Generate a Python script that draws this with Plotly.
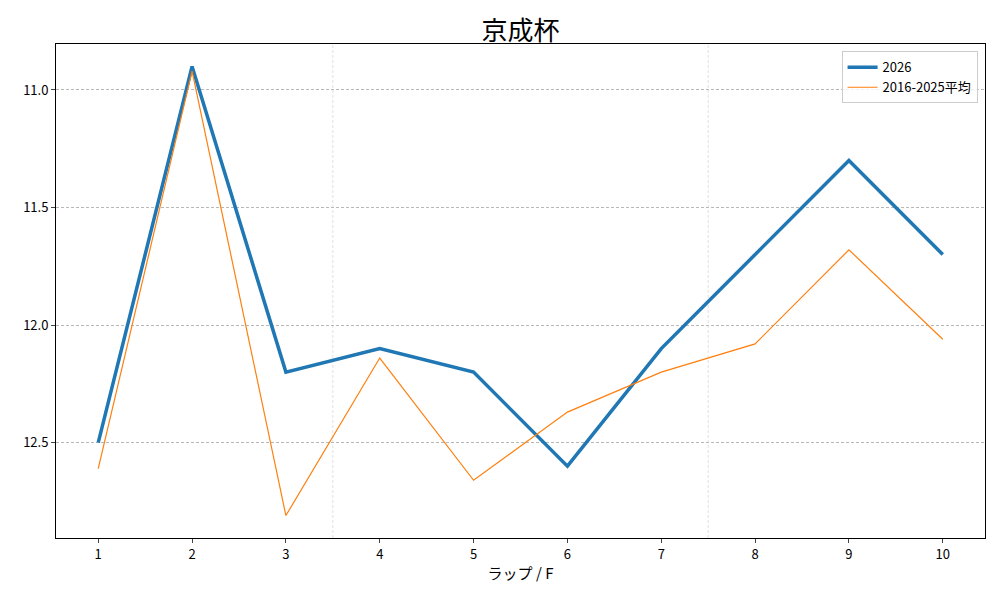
import plotly.graph_objects as go

laps = [1, 2, 3, 4, 5, 6, 7, 8, 9, 10]
y2026 = [12.5, 10.9, 12.2, 12.1, 12.2, 12.6, 12.1, 11.7, 11.3, 11.7]
yavg = [12.61, 10.92, 12.81, 12.14, 12.66, 12.37, 12.2, 12.08, 11.68, 12.06]
yticks = [11.0, 11.5, 12.0, 12.5]
vlines = [3.5, 7.5]

FONT = "Noto Sans CJK JP"

fig = go.Figure()
fig.add_trace(go.Scatter(x=laps, y=y2026, mode="lines", name="2026",
                         line=dict(color="#1f77b4", width=3.5)))
fig.add_trace(go.Scatter(x=laps, y=yavg, mode="lines", name="2016-2025平均",
                         line=dict(color="#ff7f0e", width=1.2)))

for v in vlines:
    fig.add_vline(x=v, line=dict(color="#d8d8d8", width=0.8, dash="3px,2px"), layer="below")

fig.update_layout(
    width=992, height=592,
    margin=dict(l=48, r=15, t=36, b=62),
    paper_bgcolor="white", plot_bgcolor="white",
    font=dict(family=FONT, size=13, color="black"),
    title=dict(text="京成杯", x=0.5, xref="paper", xanchor="center", y=0.962, yanchor="middle",
               font=dict(family=FONT, size=26, color="black")),
    showlegend=True,
    legend=dict(x=0.992, y=0.985, xanchor="right", yanchor="top",
                bgcolor="rgba(255,255,255,0.8)", bordercolor="#cccccc", borderwidth=1,
                font=dict(family=FONT, size=13)),
    xaxis=dict(range=[0.55, 10.45], tickvals=laps, ticks="outside", ticklen=4,
               showgrid=False, zeroline=False, showline=True, linecolor="black", linewidth=1,
               mirror=True, title=dict(text="ラップ / F", font=dict(family=FONT, size=15), standoff=6)),
    yaxis=dict(range=[12.9055, 10.8045], tickvals=yticks, ticktext=[f"{t:.1f}" for t in yticks],
               ticks="outside", ticklen=4, showgrid=True, gridcolor="#b8b8b8", gridwidth=0.6,
               griddash="3px,2px", zeroline=False, showline=True, linecolor="black", linewidth=1,
               mirror=True),
)

fig.write_html("out.html")
